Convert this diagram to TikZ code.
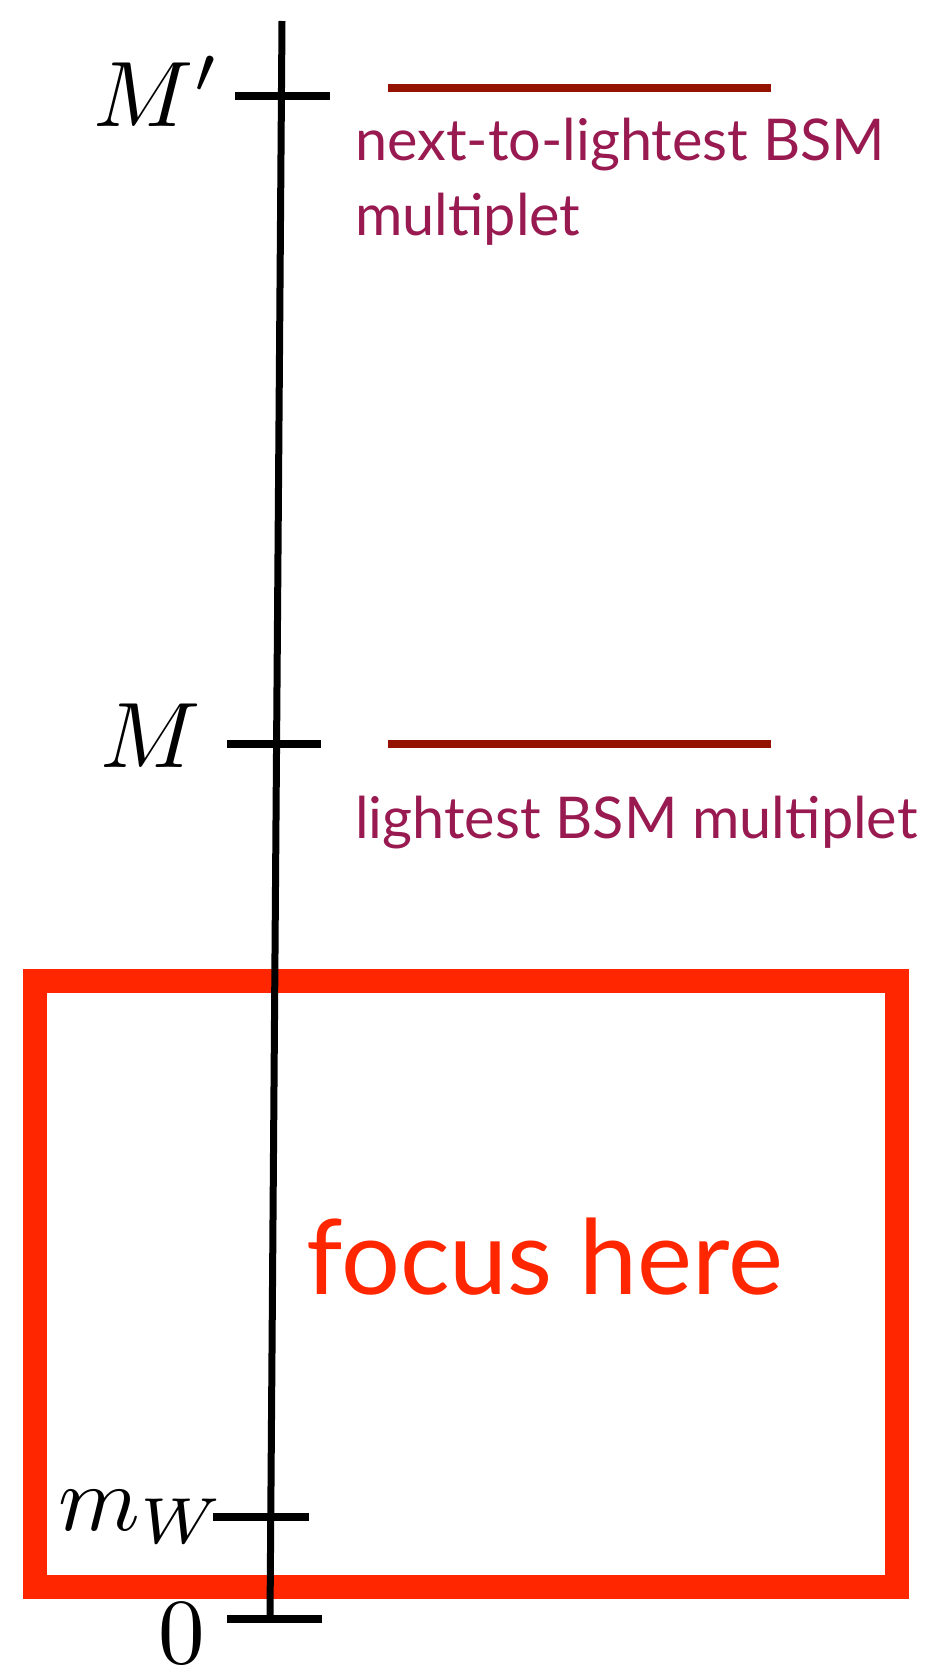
\documentclass[tikz,border=0pt]{standalone}
\usepackage[no-math]{fontspec}
\newfontfamily\labelfont{Lato}
\definecolor{levelred}{RGB}{148,18,0}
\definecolor{labelcol}{RGB}{152,26,80}
\definecolor{boxred}{RGB}{255,38,0}
\begin{document}
\begin{tikzpicture}[x=1pt,y=-1pt,
  axisline/.style={line width=7pt,black},
  tickline/.style={line width=8pt,black},
  levelline/.style={line width=8pt,levelred},
  mathlabel/.style={inner sep=0pt,anchor=base east,scale=9.3},
  bsmlabel/.style={inner sep=0pt,anchor=base west,text=labelcol,font=\labelfont\fontsize{57.6}{70}\selectfont},
  focusbox/.style={line width=24pt,boxred}]
\useasboundingbox (0,0) rectangle (950,1665);
% focus box
\draw[focusbox] (35,981) rectangle (897,1587);
\node[inner sep=0pt,anchor=base west,text=boxred,font=\labelfont\fontsize{104}{120}\selectfont] (focus) at (306,1294) {focus here};
% axis
\coordinate (top) at (282,21);
\coordinate (bot) at (270,1619);
\draw[axisline] (top) -- (bot);
% ticks
\coordinate (t1a) at (235,96);  \coordinate (t1b) at (330,96);
\coordinate (t2a) at (227,744); \coordinate (t2b) at (321,744);
\coordinate (t3a) at (213,1517);\coordinate (t3b) at (309,1517);
\coordinate (t4a) at (227,1619);\coordinate (t4b) at (322,1619);
\draw[tickline] (t1a) -- (t1b);
\draw[tickline] (t2a) -- (t2b);
\draw[tickline] (t3a) -- (t3b);
\draw[tickline] (t4a) -- (t4b);
% math labels
\node[mathlabel] (Mp) at (222,126) {$M'$};
\node[mathlabel] (M) at (203,767) {$M$};
\node[mathlabel] (mW) at (227,1530) {$m_W$};
\node[mathlabel] (zero) at (207,1663) {$0$};
% level lines
\coordinate (l1a) at (388,88);  \coordinate (l1b) at (771,88);
\coordinate (l2a) at (388,744); \coordinate (l2b) at (771,744);
\draw[levelline] (l1a) -- (l1b);
\draw[levelline] (l2a) -- (l2b);
% labels
\node[bsmlabel] (ntl) at (355,160) {next-to-lightest BSM};
\node[bsmlabel] (ntl2) at (355,235) {multiplet};
\node[bsmlabel] (lt) at (355,838) {lightest BSM multiplet};
\end{tikzpicture}
\end{document}
